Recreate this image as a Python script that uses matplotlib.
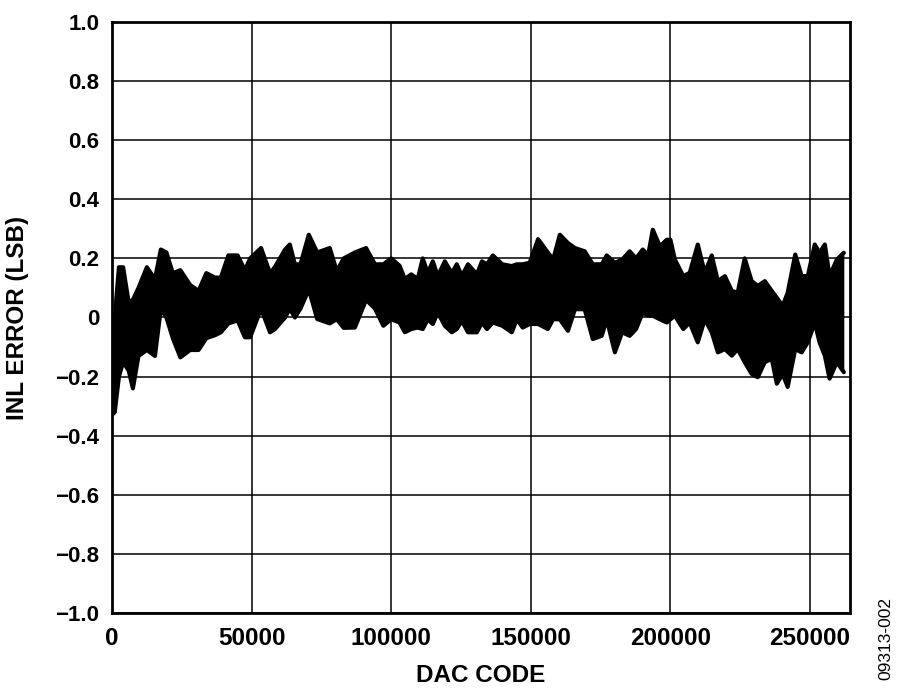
import numpy as np
import matplotlib
matplotlib.use("Agg")
import matplotlib.pyplot as plt

# INL envelope: dac code, top of trace, bottom of trace
codes = [0, 1000, 2500, 4000, 6000, 7500, 9500, 12500, 15400, 17500,
         19500, 21800, 24500, 28000, 31000, 33800, 36900, 39000, 41700, 45000,
         47600, 49500, 53400, 56600, 58300, 62000, 63700, 65500, 67500, 70500,
         73500, 78000, 80500, 83000, 87000, 91000, 94200, 97200, 100000, 103000,
         104900, 107200, 109500, 111300, 113100, 114900, 116700, 119200, 121700, 123500,
         125300, 127500, 130700, 132500, 134300, 136400, 139800, 143200, 145000, 147100,
         149600, 152600, 156100, 158000, 160400, 163300, 165800, 169300, 172200, 175400,
         177200, 180100, 182700, 185400, 187700, 190100, 192000, 193700, 196200, 198700,
         200000, 201600, 204600, 206900, 209800, 212300, 214800, 217000, 219500, 222000,
         224100, 226600, 229100, 231300, 233800, 236300, 238100, 240200, 242000, 244700,
         247000, 249200, 251700, 253400, 255300, 257000, 259600, 262100]
inl_hi = [-0.02, 0.0, 0.17, 0.17, 0.05, 0.06, 0.10, 0.17, 0.13, 0.23,
          0.22, 0.15, 0.16, 0.11, 0.09, 0.15, 0.135, 0.135, 0.21, 0.21,
          0.16, 0.20, 0.235, 0.15, 0.17, 0.23, 0.247, 0.18, 0.18, 0.28,
          0.22, 0.235, 0.157, 0.20, 0.22, 0.235, 0.18, 0.18, 0.20, 0.175,
          0.13, 0.146, 0.13, 0.20, 0.15, 0.19, 0.14, 0.19, 0.15, 0.18,
          0.14, 0.18, 0.146, 0.19, 0.18, 0.21, 0.18, 0.174, 0.18, 0.18,
          0.185, 0.265, 0.22, 0.196, 0.28, 0.252, 0.235, 0.224, 0.18, 0.18,
          0.21, 0.185, 0.196, 0.224, 0.20, 0.23, 0.21, 0.297, 0.241, 0.263,
          0.263, 0.196, 0.14, 0.151, 0.247, 0.151, 0.21, 0.123, 0.14, 0.09,
          0.084, 0.20, 0.123, 0.107, 0.123, 0.09, 0.067, 0.039, 0.084, 0.213,
          0.14, 0.14, 0.247, 0.219, 0.247, 0.14, 0.196, 0.219]
inl_lo = [-0.33, -0.32, -0.20, -0.15, -0.18, -0.24, -0.13, -0.11, -0.13, 0.03,
          0.0, -0.07, -0.135, -0.11, -0.11, -0.07, -0.06, -0.05, -0.02, -0.01,
          -0.067, -0.067, 0.03, -0.05, -0.04, 0.0, 0.03, 0.0, 0.03, 0.095,
          -0.005, -0.02, -0.006, -0.035, -0.034, 0.06, 0.03, -0.028, -0.006, -0.017,
          -0.05, -0.039, -0.034, -0.039, -0.006, -0.022, 0.017, -0.028, -0.05, -0.039,
          -0.011, -0.05, -0.05, -0.017, -0.039, -0.017, -0.028, -0.05, -0.006, -0.034,
          -0.022, -0.022, -0.039, -0.006, -0.006, -0.045, 0.028, 0.028, -0.073, -0.062,
          -0.006, -0.118, -0.05, -0.062, -0.039, 0.017, 0.006, 0.006, -0.006, -0.017,
          -0.006, 0.006, -0.039, -0.017, -0.084, -0.006, -0.05, -0.118, -0.107, -0.129,
          -0.107, -0.151, -0.191, -0.202, -0.151, -0.140, -0.224, -0.191, -0.235, -0.107,
          -0.118, -0.084, -0.017, -0.084, -0.129, -0.207, -0.151, -0.185]

xticks = [0, 50000, 100000, 150000, 200000, 250000]
yticks = [-1.0, -0.8, -0.6, -0.4, -0.2, 0, 0.2, 0.4, 0.6, 0.8, 1.0]
ylabels = ["\u22121.0", "\u22120.8", "\u22120.6", "\u22120.4", "\u22120.2", "0",
           "0.2", "0.4", "0.6", "0.8", "1.0"]

plt.rcParams['font.family'] = ['Liberation Sans', 'DejaVu Sans']

fig = plt.figure(figsize=(9, 6.92), dpi=100)
ax = fig.add_axes([0.1244, 0.1142, 0.82, 0.854])

ax.fill_between(codes, inl_lo, inl_hi, color="black", linewidth=0)
ax.plot(codes, inl_hi, color="black", linewidth=3, solid_capstyle="round")
ax.plot(codes, inl_lo, color="black", linewidth=3, solid_capstyle="round")

ax.set_xlim(0, 264300)
ax.set_ylim(-1.0, 1.0)
ax.set_xticks(xticks)
ax.set_xticklabels([str(t) for t in xticks], fontsize=17.5, fontweight="bold")
ax.set_yticks(yticks)
ax.set_yticklabels(ylabels, fontsize=16, fontweight="bold")
ax.tick_params(axis="x", length=0, pad=10)
ax.tick_params(axis="y", length=0, pad=9)
ax.grid(True, color="black", linewidth=1.1)
ax.set_axisbelow(True)
for s in ax.spines.values():
    s.set_linewidth(2)

ax.set_xlabel("DAC CODE", fontsize=17.5, fontweight="bold", labelpad=10)
ax.set_ylabel("INL ERROR (LSB)", fontsize=17.5, fontweight="bold")
ax.yaxis.set_label_coords(-0.113, 0.5)

fig.text(0.984, 0.017, "09313-002", rotation=90, fontsize=12.5,
         ha="center", va="bottom")

fig.savefig("out.png", dpi=100)
